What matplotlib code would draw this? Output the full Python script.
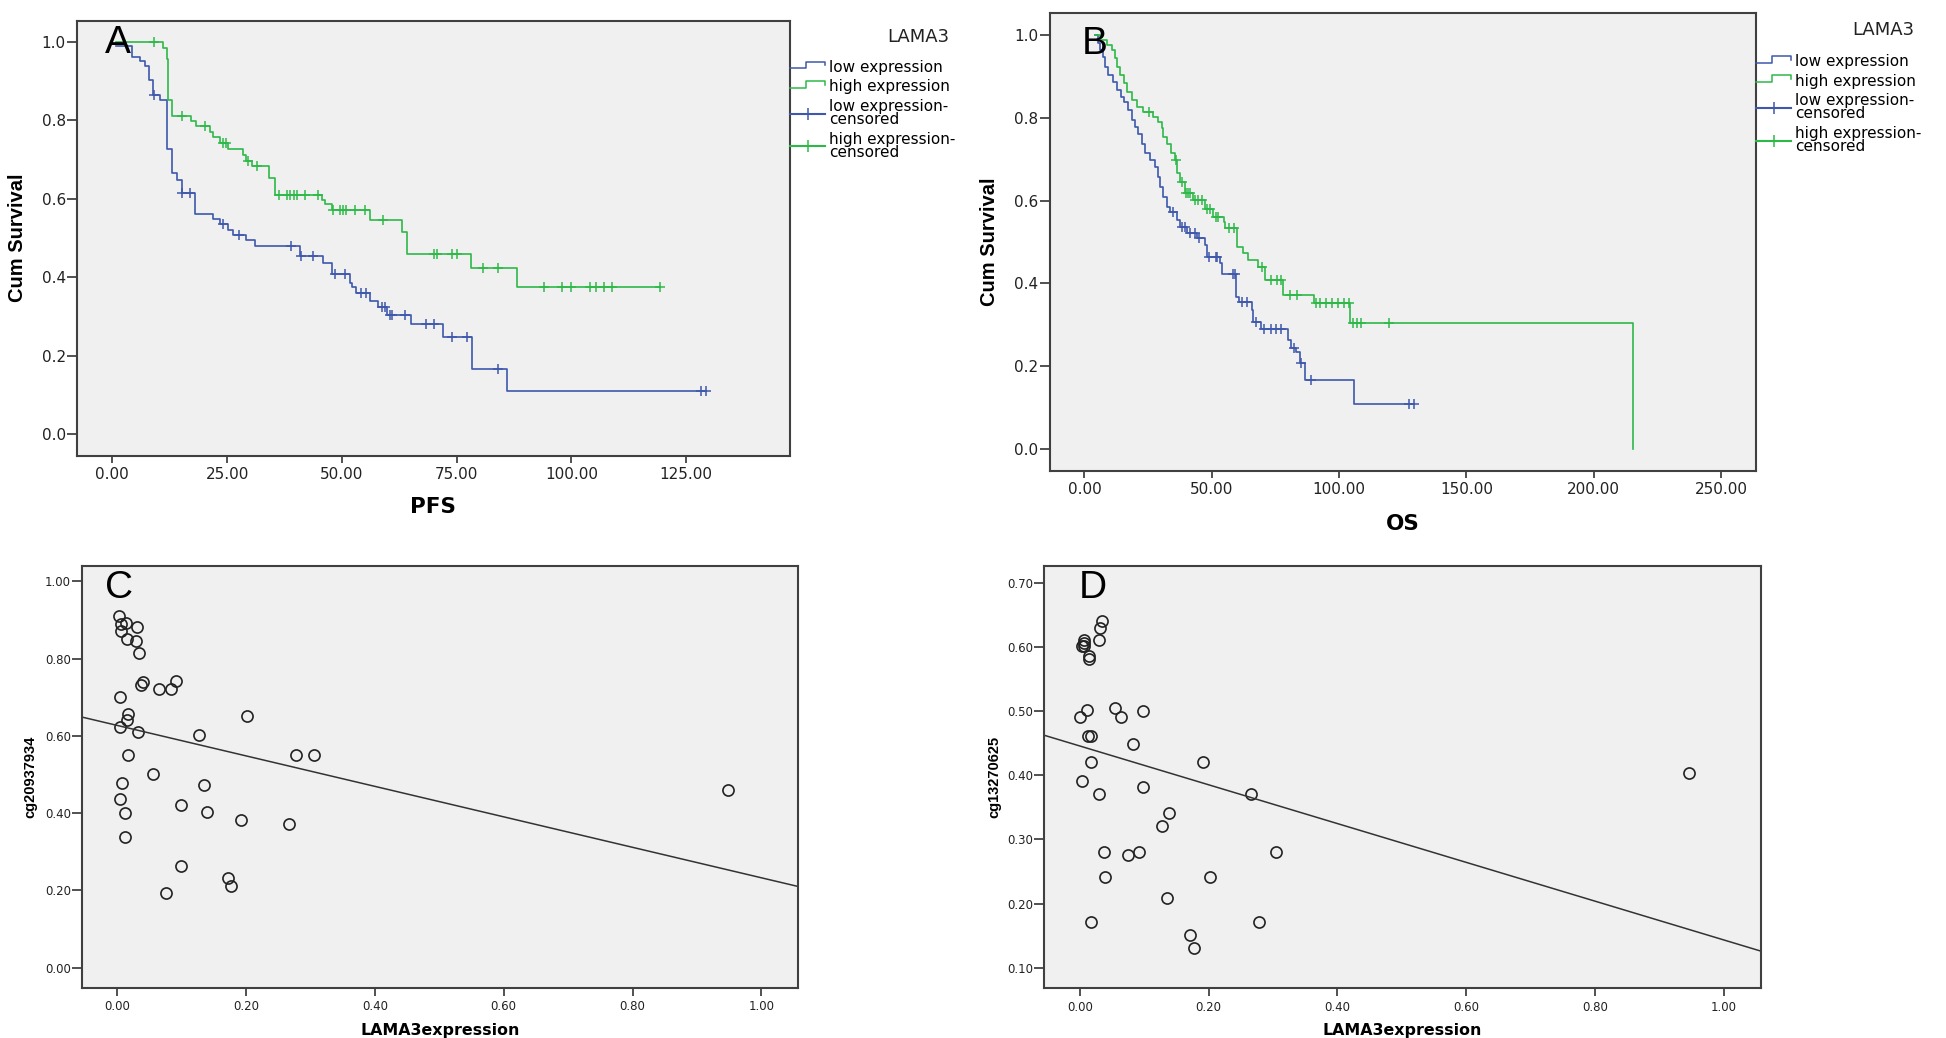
import numpy as np
import matplotlib.pyplot as plt
from matplotlib.lines import Line2D
from matplotlib.legend_handler import HandlerBase
from matplotlib.ticker import FormatStrFormatter

# ---------------- data ----------------
# A: PFS, Kaplan-Meier (time of step, survival after step)
pfs_low_t = [0.9, 4.2, 6.0, 7.2, 8.0, 8.9, 10.3, 11.8, 13.1, 14.1, 15.1, 18.0, 22.0,
             23.4, 25.2, 26.3, 29.1, 31.0, 40.8, 45.8, 47.9, 51.7, 52.3, 53.0, 56.2,
             57.8, 59.8, 65.0, 72.1, 78.3, 86.0]
pfs_low_s = [0.988, 0.961, 0.950, 0.937, 0.903, 0.865, 0.852, 0.726, 0.665, 0.648,
             0.614, 0.560, 0.548, 0.536, 0.520, 0.508, 0.495, 0.480, 0.454, 0.435,
             0.408, 0.384, 0.374, 0.359, 0.338, 0.323, 0.304, 0.281, 0.247, 0.166, 0.110]
pfs_low_end = 129.3
pfs_low_cens = [9.1, 15.2, 17.0, 24.2, 27.5, 39.0, 41.0, 43.8, 48.4, 50.7, 54.2, 55.3,
                58.7, 59.3, 60.4, 61.0, 63.8, 68.4, 70.0, 74.0, 77.2, 84.1, 128.2, 129.3]

pfs_high_t = [0.9, 11.1, 11.8, 12.2, 13.0, 17.2, 18.3, 21.2, 22.0, 23.4, 25.2, 28.5,
              29.2, 30.5, 34.2, 35.4, 45.6, 46.3, 47.8, 56.1, 63.0, 64.1, 78.1, 88.1]
pfs_high_s = [1.0, 0.984, 0.956, 0.852, 0.811, 0.799, 0.784, 0.770, 0.757, 0.742,
              0.726, 0.712, 0.697, 0.684, 0.652, 0.610, 0.597, 0.587, 0.571, 0.546,
              0.516, 0.459, 0.423, 0.376]
pfs_high_end = 119.2
pfs_high_cens = [9.1, 15.1, 20.2, 24.2, 24.8, 29.5, 31.5, 36.2, 38.0, 38.7, 39.5, 40.2,
                 42.0, 44.9, 48.1, 49.6, 50.3, 51.0, 52.8, 55.0, 59.0, 70.0, 70.8, 73.9,
                 75.0, 80.8, 83.9, 94.1, 98.0, 99.8, 104.1, 105.3, 107.1, 108.8, 119.2]

# B: OS
os_low_t = [4.0, 5.5, 6.1, 7.4, 8.1, 9.4, 11.3, 12.9, 14.2, 15.5, 17.2, 18.5, 19.8,
            21.1, 22.5, 23.8, 25.7, 27.7, 29.0, 29.7, 31.0, 32.3, 33.6, 36.2, 37.5,
            40.1, 44.1, 47.3, 48.0, 53.2, 54.0, 59.7, 60.9, 65.9, 66.3, 69.2, 80.1,
            81.0, 82.9, 84.6, 86.5, 105.9]
os_low_s = [1.0, 0.980, 0.964, 0.948, 0.923, 0.903, 0.887, 0.867, 0.851, 0.839, 0.819,
            0.795, 0.778, 0.762, 0.738, 0.714, 0.698, 0.682, 0.658, 0.634, 0.609,
            0.585, 0.573, 0.553, 0.537, 0.521, 0.509, 0.493, 0.464, 0.449, 0.424,
            0.368, 0.356, 0.336, 0.307, 0.289, 0.263, 0.243, 0.235, 0.207, 0.167, 0.110]
os_low_end = 129.4
os_low_cens = [34.8, 38.3, 39.6, 41.6, 43.6, 44.9, 48.9, 51.5, 52.1, 58.2, 59.2, 61.7,
               63.8, 67.5, 70.6, 73.4, 75.3, 77.0, 82.2, 85.0, 88.8, 127.5, 129.4]

os_high_t = [4.0, 6.1, 8.7, 10.7, 12.0, 12.9, 13.9, 15.5, 16.6, 18.5, 20.5, 23.1, 27.0,
             29.0, 30.3, 31.0, 32.3, 34.2, 35.5, 36.2, 37.5, 39.5, 42.7, 47.3, 50.6,
             54.8, 55.2, 60.0, 62.4, 64.3, 68.3, 70.9, 77.9, 90.0, 104.2, 215.6]
os_high_s = [1.0, 0.988, 0.976, 0.964, 0.944, 0.923, 0.903, 0.883, 0.863, 0.843, 0.827,
             0.815, 0.803, 0.791, 0.775, 0.754, 0.738, 0.714, 0.698, 0.666, 0.646,
             0.618, 0.601, 0.581, 0.561, 0.549, 0.533, 0.489, 0.473, 0.457, 0.440,
             0.408, 0.372, 0.352, 0.305, 0.0]
os_high_end = 215.6
os_high_cens = [25.5, 35.9, 38.3, 39.8, 40.5, 41.5, 43.3, 44.5, 46.0, 48.3, 49.5, 51.5,
                52.5, 56.8, 58.8, 69.6, 73.2, 75.6, 77.0, 80.6, 83.4, 91.0, 92.4, 94.8,
                97.1, 99.5, 101.9, 103.8, 105.4, 107.1, 108.5, 119.6]

# C: cg20937934 vs LAMA3 expression
c_x = [0.002, 0.005, 0.0135, 0.030, 0.005, 0.015, 0.0295, 0.034, 0.040, 0.037, 0.064,
       0.083, 0.091, 0.004, 0.017, 0.015, 0.004, 0.032, 0.202, 0.127, 0.017, 0.278,
       0.305, 0.055, 0.007, 0.134, 0.004, 0.098, 0.012, 0.139, 0.192, 0.266, 0.012,
       0.098, 0.171, 0.176, 0.075, 0.949]
c_y = [0.911, 0.890, 0.892, 0.881, 0.872, 0.851, 0.847, 0.815, 0.740, 0.732, 0.722,
       0.722, 0.741, 0.701, 0.657, 0.641, 0.622, 0.611, 0.652, 0.601, 0.551, 0.551,
       0.551, 0.502, 0.477, 0.472, 0.436, 0.422, 0.400, 0.402, 0.382, 0.372, 0.337,
       0.262, 0.231, 0.211, 0.192, 0.461]
c_fit = (0.627, -0.3945)   # intercept, slope

# D: cg13270625 vs LAMA3 expression
d_x = [0.035, 0.032, 0.030, 0.007, 0.006, 0.004, 0.006, 0.015, 0.014, 0.012, 0.001,
       0.055, 0.064, 0.098, 0.013, 0.017, 0.083, 0.017, 0.192, 0.004, 0.030, 0.098,
       0.266, 0.139, 0.127, 0.037, 0.075, 0.092, 0.305, 0.040, 0.202, 0.135, 0.017,
       0.279, 0.171, 0.177, 0.946]
d_y = [0.641, 0.630, 0.611, 0.611, 0.606, 0.601, 0.601, 0.586, 0.581, 0.501, 0.491,
       0.505, 0.491, 0.500, 0.461, 0.461, 0.448, 0.421, 0.421, 0.391, 0.371, 0.381,
       0.371, 0.341, 0.321, 0.281, 0.276, 0.281, 0.281, 0.241, 0.241, 0.208, 0.171,
       0.171, 0.151, 0.131, 0.403]
d_fit = (0.4456, -0.3023)

legend_labels = ['low expression', 'high expression',
                 'low expression-\ncensored', 'high expression-\ncensored']

BLUE = '#3e58ac'
GREEN = '#2eb848'
BG = '#f0f0f0'
FRAME = '#404040'


class StepHandler(HandlerBase):
    def create_artists(self, legend, orig_handle, xdescent, ydescent,
                       width, height, fontsize, trans):
        x0 = -xdescent
        xs = [x0, x0 + 0.45 * width, x0 + 0.45 * width, x0 + width, x0 + width]
        ys = [0.3 * height, 0.3 * height, 0.95 * height, 0.95 * height, 0.6 * height]
        ys = [y - ydescent for y in ys]
        ln = Line2D(xs, ys, color=orig_handle.get_color(), lw=1.1)
        ln.set_transform(trans)
        return [ln]


def surv_at(times, surv, t):
    i = np.searchsorted(times, t, side='right') - 1
    return np.array(surv)[np.clip(i, 0, len(surv) - 1)]


def style_axes(ax, fs, xlen, ylen):
    ax.set_facecolor(BG)
    for sp in ax.spines.values():
        sp.set_color(FRAME)
        sp.set_linewidth(1.5)
    ax.tick_params(axis='both', direction='out', color='#333333', width=1.2,
                   labelsize=fs, labelcolor='#222222')
    ax.tick_params(axis='x', length=xlen, pad=3)
    ax.tick_params(axis='y', length=ylen, pad=1)


def km_panel(ax, curves):
    for t, s, end, cens, col in curves:
        ax.step(list(t) + [end], list(s) + [s[-1]], where='post', color=col, lw=1.2)
        ax.plot(cens, surv_at(t, s, cens), ls='none', marker='+', ms=7, mew=1.1, color=col)


def km_legend(ax, anchor_y):
    hs = [Line2D([], [], color=BLUE), Line2D([], [], color=GREEN),
          Line2D([], [], color=BLUE, marker='+', ms=9, mew=1.1),
          Line2D([], [], color=GREEN, marker='+', ms=9, mew=1.1)]
    leg = ax.legend(hs, legend_labels, loc='upper left', bbox_to_anchor=(1.0, anchor_y),
                    frameon=False, borderpad=0, borderaxespad=0, handlelength=2.3,
                    handletextpad=0.25, labelspacing=0.3, numpoints=1,
                    prop={'family': 'DejaVu Sans', 'size': 11},
                    handler_map={hs[0]: StepHandler(), hs[1]: StepHandler()})
    for txt in leg.get_texts():
        txt.set_linespacing(0.85)
    ax.text(1.18, 0.962, 'LAMA3', transform=ax.transAxes, ha='center', va='center',
            fontsize=13, color='#222222')


W, H = 1946, 1038
fig = plt.figure(figsize=(W / 100, H / 100), dpi=100)


def add_axes(l, t, r, b):
    return fig.add_axes([l / W, 1 - b / H, (r - l) / W, (b - t) / H])


axA = add_axes(77, 20.5, 790, 456)
axB = add_axes(1049.5, 12.7, 1756, 471)
axC = add_axes(82, 566, 798, 988)
axD = add_axes(1044.3, 566, 1760.6, 988.3)

# ---- A ----
km_panel(axA, [(pfs_low_t, pfs_low_s, pfs_low_end, pfs_low_cens, BLUE),
               (pfs_high_t, pfs_high_s, pfs_high_end, pfs_high_cens, GREEN)])
axA.set_xlim(-7.7, 147.6)
axA.set_ylim(-0.056, 1.054)
axA.set_xticks(np.arange(0, 126, 25))
axA.set_yticks(np.arange(0, 1.01, 0.2))
axA.xaxis.set_major_formatter(FormatStrFormatter('%.2f'))
axA.yaxis.set_major_formatter(FormatStrFormatter('%.1f'))
style_axes(axA, 11, 5, 7)
axA.set_xlabel('PFS', fontsize=15.5, fontweight='bold', family='DejaVu Sans')
axA.xaxis.set_label_coords(0.5, -0.094)
axA.set_ylabel('Cum Survival', fontsize=14.5, fontweight='bold', family='Liberation Sans')
axA.yaxis.set_label_coords(-0.070, 0.5)
km_legend(axA, 0.91)
axA.text(0.039, 0.99, 'A', transform=axA.transAxes, fontsize=28,
         family='Liberation Sans', ha='left', va='top')

# ---- B ----
km_panel(axB, [(os_low_t, os_low_s, os_low_end, os_low_cens, BLUE),
               (os_high_t, os_high_s, os_high_end, os_high_cens, GREEN)])
axB.set_xlim(-13.7, 263.7)
axB.set_ylim(-0.053, 1.054)
axB.set_xticks(np.arange(0, 251, 50))
axB.set_yticks(np.arange(0, 1.01, 0.2))
axB.xaxis.set_major_formatter(FormatStrFormatter('%.2f'))
axB.yaxis.set_major_formatter(FormatStrFormatter('%.1f'))
style_axes(axB, 11, 5, 7)
axB.set_xlabel('OS', fontsize=15.5, fontweight='bold', family='DejaVu Sans')
axB.xaxis.set_label_coords(0.5, -0.094)
axB.set_ylabel('Cum Survival', fontsize=14.5, fontweight='bold', family='Liberation Sans')
axB.yaxis.set_label_coords(-0.0715, 0.5)
km_legend(axB, 0.91)
axB.text(0.046, 0.971, 'B', transform=axB.transAxes, fontsize=28,
         family='Liberation Sans', ha='left', va='top')

# ---- C / D ----
for ax, xs, ys, fit, ylab, ylim, yticks, letter, lx, ylx in [
        (axC, c_x, c_y, c_fit, 'cg20937934', (-0.053, 1.04), np.arange(0, 1.01, 0.2), 'C', 0.032, -0.063),
        (axD, d_x, d_y, d_fit, 'cg13270625', (0.068, 0.726), np.arange(0.1, 0.71, 0.1), 'D', 0.048, -0.060)]:
    ax.plot(xs, ys, ls='none', marker='o', ms=8, mfc='none', mec='#222222', mew=1.2)
    ax.set_xlim(-0.055, 1.057)
    ax.set_ylim(*ylim)
    xl = np.array(ax.get_xlim())
    ax.plot(xl, fit[0] + fit[1] * xl, color='#333333', lw=1.1)
    ax.set_xticks(np.arange(0, 1.01, 0.2))
    ax.set_yticks(yticks)
    ax.xaxis.set_major_formatter(FormatStrFormatter('%.2f'))
    ax.yaxis.set_major_formatter(FormatStrFormatter('%.2f'))
    style_axes(ax, 8.5, 6, 7)
    ax.set_xlabel('LAMA3expression', fontsize=11.4, fontweight='bold', family='DejaVu Sans')
    ax.xaxis.set_label_coords(0.5, -0.082)
    ax.set_ylabel(ylab, fontsize=10.5, fontweight='bold', family='Liberation Sans')
    ax.yaxis.set_label_coords(ylx, 0.5)
    ax.text(lx, 0.99, letter, transform=ax.transAxes, fontsize=28,
            family='Liberation Sans', ha='left', va='top')

fig.savefig('out.png', dpi=100, facecolor='white')
